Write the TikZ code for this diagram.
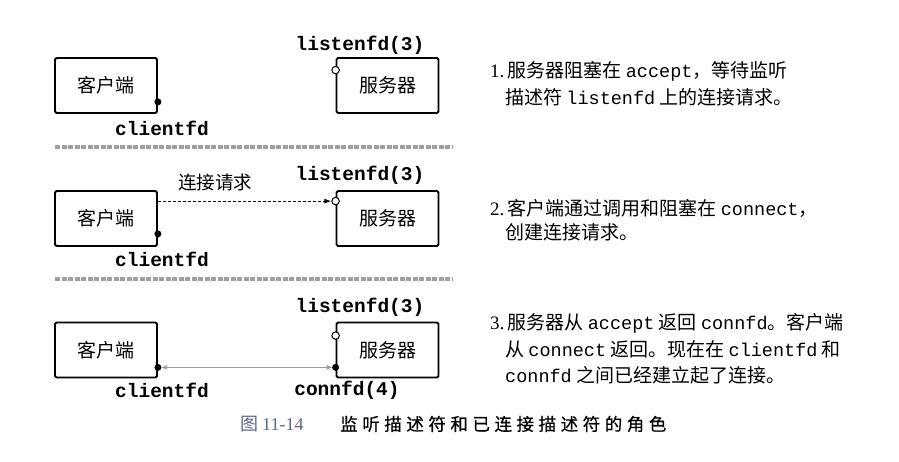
\documentclass[tikz,border=0pt]{standalone}
\usepackage{fontspec}
\setmainfont{Noto Sans CJK SC}
\newfontfamily\mono{Liberation Mono}
\newfontfamily\serifnum{Liberation Serif}
\newfontfamily\capfont{Noto Sans CJK SC}[LetterSpace=26,FakeBold=0.6]
\usetikzlibrary{arrows.meta}
\definecolor{capblue}{HTML}{5A6A8A}
\begin{document}
\begin{tikzpicture}[x=1pt,y=-1pt,
  box/.style={draw, line width=1.8pt, rounded corners=1.5pt, minimum width=102pt, minimum height=55pt, inner sep=0pt, font=\fontsize{19}{20}\selectfont},
  lab/.style={inner sep=0pt, font=\fontsize{19.5}{20}\selectfont\mono\bfseries},
  fdot/.style={circle, fill, inner sep=0pt, minimum size=7pt},
  odot/.style={circle, draw, fill=white, line width=1pt, inner sep=0pt, minimum size=7.5pt},
  sep/.style={gray!75, line width=3.5pt, dash pattern=on 5pt off 1.5pt},
  desc/.style={anchor=west, inner sep=0pt, font=\fontsize{19}{20}\selectfont},
  m/.style={}]
\useasboundingbox[fill=white] (0,0) rectangle (899,462);

% ---------- panel 1
\node[box] (c1) at (106,85.5) {客户端};
\node[box] (s1) at (387.5,85.5) {服务器};
\node[fdot] (c1d) at ([yshift=12pt]c1.south east) {};
\node[odot] (s1o) at ([yshift=-13pt]s1.north west) {};
\node[lab] (c1l) at (162,128) {clientfd};
\node[lab] (s1l) at (360,45) {listenfd(3)};

\coordinate (sepa1) at (55,147);
\coordinate (sepb1) at (453,147);
\draw[sep] (sepa1) -- (sepb1);

% ---------- panel 2
\node[box] (c2) at (106,218.5) {客户端};
\node[box] (s2) at (387.5,218.5) {服务器};
\node[fdot] (c2d) at ([yshift=13pt]c2.south east) {};
\node[odot] (s2o) at ([yshift=-11pt]s2.north west) {};
\node[lab] (c2l) at (162,259) {clientfd};
\node[lab] (s2l) at (360,175) {listenfd(3)};
\node[inner sep=0pt, font=\fontsize{18.5}{20}\selectfont] (req) at (215,182) {连接请求};
\draw[line width=1pt, dash pattern=on 3pt off 2pt, -{Latex[length=7pt,width=5pt]}] (c2.east |- s2o) -- (s2o.west);

\coordinate (sepa2) at (55,279);
\coordinate (sepb2) at (453,279);
\draw[sep] (sepa2) -- (sepb2);

% ---------- panel 3
\node[box] (c3) at (106,350) {客户端};
\node[box] (s3) at (387.5,350) {服务器};
\node[fdot] (c3d) at ([yshift=11pt]c3.south east) {};
\node[odot] (s3o) at ([yshift=-14pt]s3.north west) {};
\node[fdot] (s3d) at ([yshift=11pt]s3.south west) {};
\node[lab] (c3l) at (162,390) {clientfd};
\node[lab] (s3l) at (360,307) {listenfd(3)};
\node[lab] (s3c) at (347,390) {connfd(4)};
\draw[gray!80, line width=1.2pt, {Stealth[length=6pt,width=5pt]}-{Stealth[length=6pt,width=5pt]}] (c3d) -- (s3d);

% ---------- descriptions
\node[desc] (t1a) at (490,71) {{\serifnum 1.}\,服务器阻塞在 {\fontsize{18.5}{20}\selectfont\mono accept}，等待监听};
\node[desc] (t1b) at (505,97) {描述符 {\fontsize{18.5}{20}\selectfont\mono listenfd} 上的连接请求。};

\node[desc] (t2a) at (490,208) {{\serifnum 2.}\,客户端通过调用和阻塞在 {\fontsize{18.5}{20}\selectfont\mono connect}，};
\node[desc] (t2b) at (505,232) {创建连接请求。};

\node[desc] (t3a) at (490,323) {{\serifnum 3.}\,服务器从 {\fontsize{18.5}{20}\selectfont\mono accept} 返回 {\fontsize{18.5}{20}\selectfont\mono connfd}。客户端};
\node[desc] (t3b) at (505,349) {从 {\fontsize{18.5}{20}\selectfont\mono connect} 返回。现在在 {\fontsize{18.5}{20}\selectfont\mono clientfd} 和};
\node[desc] (t3c) at (505,375) {{\fontsize{18.5}{20}\selectfont\mono connfd} 之间已经建立起了连接。};

% ---------- caption
\node[anchor=west, inner sep=0pt, text=capblue, font=\fontsize{18}{20}\selectfont] (capn) at (240,424) {图 {\serifnum 11-14}};
\node[anchor=west, inner sep=0pt, font=\fontsize{17.5}{20}\selectfont\capfont] (capt) at (340,424) {监听描述符和已连接描述符的角色};
\end{tikzpicture}
\end{document}
